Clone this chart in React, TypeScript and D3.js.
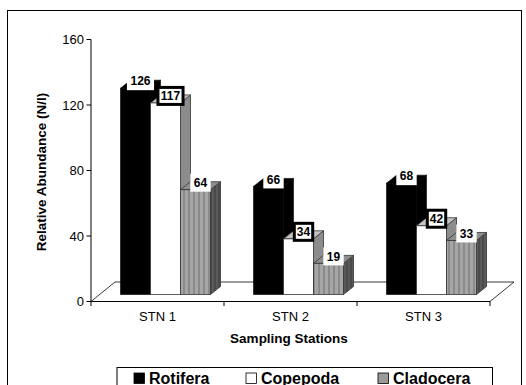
import React from "react";
import * as d3 from "d3";

// Zooplankton abundance per sampling station
const categories = ["STN 1", "STN 2", "STN 3"];
const seriesNames = ["Rotifera", "Copepoda", "Cladocera"];
const rotifera = [126, 66, 68];
const copepoda = [117, 34, 42];
const cladocera = [64, 19, 33];
const yTicks = [0, 40, 80, 120, 160];

const W = 526;
const H = 385;
const FONT = "'Liberation Sans', Arial, Helvetica, sans-serif";

const plotLeft = 91;
const plotRight = 490;
const floorDx = 24;
const floorDy = -19.5;
const barDx = 8;
const barDy = -7;
const depthDx = 10;
const depthDy = -8;
const clusterW = 90;

const y = d3.scaleLinear().domain([0, 160]).range([301.5, 39.5]);
const x = d3.scaleBand<string>().domain(categories).range([plotLeft, plotRight]).padding(0);
const xs = d3.scaleBand<string>().domain(seriesNames).range([0, clusterW]).padding(0);

const values: Record<string, number[]> = {
  Rotifera: rotifera,
  Copepoda: copepoda,
  Cladocera: cladocera,
};

type Style = { front: string; top: string; side: string; stroke: string; sw: number };
const styles: Record<string, Style> = {
  Rotifera: { front: "#000", top: "#000", side: "#000", stroke: "#000", sw: 0.6 },
  Copepoda: { front: "#fff", top: "#c4c4c4", side: "#8c8c8c", stroke: "#333", sw: 0.8 },
  Cladocera: { front: "url(#stripes)", top: "#8e8e8e", side: "url(#stripesDark)", stroke: "#333", sw: 0.8 },
};

const legendSwatch: Record<string, string> = {
  Rotifera: "#000",
  Copepoda: "#fff",
  Cladocera: "#9a9a9a",
};

function pts(p: [number, number][]) {
  return p.map((d) => d.join(",")).join(" ");
}

export default function App() {
  const y0 = y(0);
  const bars: React.ReactNode[] = [];
  const labels: React.ReactNode[] = [];

  categories.forEach((cat, ci) => {
    seriesNames.forEach((s) => {
      const v = values[s][ci];
      const st = styles[s];
      const x0 = (x(cat) as number) + (x.bandwidth() - clusterW) / 2 + (xs(s) as number) + barDx;
      const x1 = x0 + xs.bandwidth();
      const yb = y0 + barDy;
      const yt = y(v) + barDy;
      bars.push(
        <g key={`${cat}-${s}`} stroke={st.stroke} strokeWidth={st.sw} strokeLinejoin="round">
          <polygon
            points={pts([[x1, yt], [x1 + depthDx, yt + depthDy], [x1 + depthDx, yb + depthDy], [x1, yb]])}
            fill={st.side}
          />
          <polygon
            points={pts([[x0, yt], [x1, yt], [x1 + depthDx, yt + depthDy], [x0 + depthDx, yt + depthDy]])}
            fill={st.top}
          />
          <rect x={x0} y={yt} width={x1 - x0} height={yb - yt} fill={st.front} />
        </g>
      );

      const txt = String(v);
      const tw = txt.length * 6.7;
      const cx = (x0 + x1) / 2 + 5;
      const cy = yt - 7;
      const framed = s === "Copepoda";
      const bw = framed ? tw + 5 : tw + 7;
      const bh = framed ? 17 : 18;
      labels.push(
        <g key={`lab-${cat}-${s}`}>
          <rect
            x={cx - bw / 2}
            y={cy - bh / 2}
            width={bw}
            height={bh}
            fill="#fff"
            stroke={framed ? "#000" : "none"}
            strokeWidth={framed ? 3 : 0}
          />
          <text
            x={cx}
            y={cy + 4.3}
            textAnchor="middle"
            fontFamily={FONT}
            fontWeight="bold"
            fontSize={12}
            fill="#000"
          >
            {txt}
          </text>
        </g>
      );
    });
  });

  const catBounds = [...categories.map((c) => x(c) as number), plotRight];

  // legend layout
  const legFont = 16;
  const legendItems = [
    { name: "Rotifera", sx: 134 },
    { name: "Copepoda", sx: 246 },
    { name: "Cladocera", sx: 378 },
  ];

  return (
    <svg
      width={W}
      height={H}
      viewBox={`0 0 ${W} ${H}`}
      style={{ position: "absolute", left: 0, top: 0, background: "#fff" }}
    >
      <defs>
        <pattern id="stripes" patternUnits="userSpaceOnUse" width={5} height={10}>
          <rect x={0} y={0} width={5} height={10} fill="#a6a6a6" />
          <rect x={3} y={0} width={2} height={10} fill="#8a8a8a" />
        </pattern>
        <pattern id="stripesDark" patternUnits="userSpaceOnUse" width={4} height={10}>
          <rect x={0} y={0} width={4} height={10} fill="#5a5a5a" />
          <rect x={2} y={0} width={2} height={10} fill="#4a4a4a" />
        </pattern>
      </defs>

      <rect x={0} y={0} width={W} height={H} fill="#fff" />
      {/* outer frame */}
      <rect x={7.5} y={10.5} width={514} height={420} fill="none" stroke="#000" strokeWidth={1} />

      {/* floor */}
      <g stroke="#222" strokeWidth={0.9} fill="none">
        <line x1={plotLeft + floorDx} y1={y0 + floorDy} x2={plotRight + floorDx} y2={y0 + floorDy} />
        <line x1={plotLeft} y1={y0} x2={plotLeft + floorDx} y2={y0 + floorDy} />
        <line x1={plotRight} y1={y0} x2={plotRight + floorDx} y2={y0 + floorDy} />
      </g>

      {/* value axis */}
      <g>
        <line x1={plotLeft} y1={y(160)} x2={plotLeft} y2={y0} stroke="#000" strokeWidth={1} />
        {yTicks.map((t) => (
          <g key={t}>
            <line x1={plotLeft - 4.5} y1={y(t)} x2={plotLeft} y2={y(t)} stroke="#000" strokeWidth={1} />
            <text
              x={plotLeft - 7}
              y={y(t) + 4.6}
              textAnchor="end"
              fontFamily={FONT}
              fontSize={13}
              fill="#000"
            >
              {t}
            </text>
          </g>
        ))}
      </g>

      {/* category axis */}
      <g>
        <line x1={plotLeft} y1={y0} x2={plotRight} y2={y0} stroke="#000" strokeWidth={1} />
        {catBounds.map((b, i) => (
          <line key={i} x1={b} y1={y0} x2={b} y2={y0 + 4.5} stroke="#000" strokeWidth={1} />
        ))}
        {categories.map((c) => (
          <text
            key={c}
            x={(x(c) as number) + x.bandwidth() / 2}
            y={321}
            textAnchor="middle"
            fontFamily={FONT}
            fontSize={13}
            fill="#000"
          >
            {c}
          </text>
        ))}
      </g>

      {bars}
      {labels}

      {/* axis titles */}
      <text x={289} y={343} textAnchor="middle" fontFamily={FONT} fontWeight="bold" fontSize={13.5} fill="#000">
        Sampling Stations
      </text>
      <text
        transform={`translate(46,172) rotate(-90)`}
        textAnchor="middle"
        fontFamily={FONT}
        fontWeight="bold"
        fontSize={13.5}
        fill="#000"
      >
        Relative Abundance (N/l)
      </text>

      {/* legend */}
      <rect x={117} y={367.5} width={375.5} height={40} fill="#fff" stroke="#000" strokeWidth={1} />
      {legendItems.map((it) => (
        <g key={it.name}>
          <rect
            x={it.sx}
            y={373}
            width={10.5}
            height={10.5}
            fill={legendSwatch[it.name]}
            stroke="#000"
            strokeWidth={0.8}
          />
          <text x={it.sx + 15} y={384} fontFamily={FONT} fontWeight="bold" fontSize={legFont} fill="#000">
            {it.name}
          </text>
        </g>
      ))}
    </svg>
  );
}
